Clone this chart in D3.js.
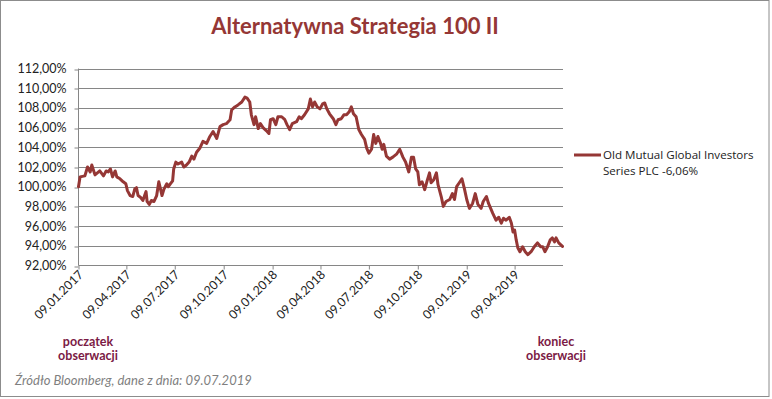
<!DOCTYPE html>
<html><head><meta charset="utf-8">
<script src="https://cdn.jsdelivr.net/npm/d3@7"></script>
<style>
html,body{margin:0;padding:0;background:#fff;}
svg{display:block;}
</style></head>
<body><svg id="c" width="772" height="399"></svg>
<script>
const title = "Alternatywna Strategia 100 II";
const seriesName = ["Old Mutual Global Investors", "Series PLC -6,06%"];
const sourceNote = "Źródło Bloomberg, dane z dnia: 09.07.2019";
const startNote = ["początek", "obserwacji"];
const endNote = ["koniec", "obserwacji"];
const yTicks = [92, 94, 96, 98, 100, 102, 104, 106, 108, 110, 112];
const xTickDates = ["2017-01-09","2017-04-09","2017-07-09","2017-10-09","2018-01-09","2018-04-09","2018-07-09","2018-10-09","2019-01-09","2019-04-09"];
const dates = [
"2017-01-09","2017-01-12","2017-01-21","2017-01-26","2017-01-31","2017-02-03","2017-02-09","2017-02-18","2017-02-25","2017-03-02",
"2017-03-06","2017-03-10","2017-03-14","2017-03-19","2017-03-22","2017-03-28","2017-04-03","2017-04-08","2017-04-11","2017-04-16",
"2017-04-21","2017-04-25","2017-04-28","2017-05-01","2017-05-06","2017-05-10","2017-05-16","2017-05-18","2017-05-22","2017-05-26",
"2017-05-31","2017-06-05","2017-06-09","2017-06-12","2017-06-15","2017-06-19","2017-06-24","2017-06-27","2017-07-01","2017-07-05",
"2017-07-07","2017-07-11","2017-07-15","2017-07-22","2017-07-26","2017-07-31","2017-08-05","2017-08-10","2017-08-14","2017-08-19",
"2017-08-25","2017-08-31","2017-09-07","2017-09-13","2017-09-19","2017-09-26","2017-10-02","2017-10-08","2017-10-14","2017-10-21",
"2017-10-24","2017-10-30","2017-11-05","2017-11-12","2017-11-18","2017-11-22","2017-11-27","2017-11-30","2017-12-05","2017-12-08",
"2017-12-13","2017-12-17","2017-12-22","2017-12-28","2018-01-02","2018-01-05","2018-01-10","2018-01-15","2018-01-19","2018-01-26",
"2018-02-01","2018-02-05","2018-02-10","2018-02-15","2018-02-23","2018-02-28","2018-03-04","2018-03-10","2018-03-17","2018-03-21",
"2018-03-25","2018-03-29","2018-04-03","2018-04-08","2018-04-13","2018-04-17","2018-04-21","2018-04-26","2018-05-03","2018-05-08",
"2018-05-12","2018-05-18","2018-05-23","2018-05-28","2018-06-02","2018-06-06","2018-06-10","2018-06-15","2018-06-20","2018-06-25",
"2018-07-01","2018-07-05","2018-07-09","2018-07-14","2018-07-18","2018-07-22","2018-07-26","2018-07-31","2018-08-03","2018-08-06",
"2018-08-11","2018-08-17","2018-08-23","2018-08-30","2018-09-05","2018-09-11","2018-09-16","2018-09-22","2018-09-27","2018-10-01",
"2018-10-05","2018-10-09","2018-10-12","2018-10-17","2018-10-22","2018-10-26","2018-10-31","2018-11-03","2018-11-08","2018-11-13",
"2018-11-16","2018-11-22","2018-11-26","2018-12-01","2018-12-08","2018-12-13","2018-12-17","2018-12-21","2018-12-26","2018-12-31",
"2019-01-05","2019-01-09","2019-01-14","2019-01-20","2019-01-25","2019-01-30","2019-02-05","2019-02-09","2019-02-15","2019-02-19",
"2019-02-27","2019-03-05","2019-03-10","2019-03-15","2019-03-19","2019-03-24","2019-03-30","2019-04-03","2019-04-06","2019-04-09",
"2019-04-12","2019-04-15","2019-04-19","2019-04-24","2019-04-29","2019-05-04","2019-05-10","2019-05-16","2019-05-22","2019-05-28",
"2019-06-01","2019-06-05","2019-06-10","2019-06-15","2019-06-19","2019-06-23","2019-06-26","2019-07-01","2019-07-08"
];
const values = [
100.0,101.0,101.1,102.0,101.5,102.2,101.2,101.6,101.1,101.6,
101.5,101.8,101.0,101.6,101.0,100.8,100.5,100.3,99.6,99.1,
99.0,99.8,99.9,99.1,98.9,98.6,99.5,98.5,98.2,98.6,
98.5,99.1,100.5,99.8,99.1,99.8,100.3,100.0,100.3,100.6,
101.8,102.5,102.3,102.5,102.0,102.2,102.5,103.1,102.8,103.5,
103.9,104.6,104.4,105.1,105.6,104.9,106.1,106.3,106.4,106.8,
107.8,108.1,108.3,108.6,109.1,109.0,108.6,107.3,106.3,107.1,
105.9,106.4,106.0,105.7,105.4,106.8,106.9,106.3,107.1,107.1,
106.8,106.3,105.8,106.4,106.6,107.1,106.9,107.3,107.9,108.9,
108.1,108.6,108.1,107.9,108.4,108.5,107.9,107.4,106.9,106.3,
106.8,106.9,107.3,107.3,107.6,108.1,107.4,107.1,105.8,105.3,
104.8,103.9,103.4,103.8,105.3,104.4,105.1,104.4,103.8,104.3,
103.1,102.8,103.0,103.3,103.8,103.0,102.5,101.5,103.0,103.0,
101.8,101.5,100.2,100.5,99.7,100.5,101.4,100.4,100.7,101.4,
100.2,99.0,98.0,98.5,98.7,99.3,98.7,100.0,100.4,100.8,
99.7,98.7,97.8,98.3,99.3,98.2,97.8,98.5,99.0,98.3,
97.3,96.6,96.9,96.3,96.8,96.6,96.9,96.3,95.4,95.6,
94.6,93.8,93.4,93.9,93.4,93.1,93.4,93.9,94.3,93.9,
93.9,93.4,93.9,94.6,94.8,94.4,94.8,94.3,93.94
];

const parse = d3.timeParse("%Y-%m-%d");
const data = dates.map((d, i) => ({ date: parse(d), value: values[i] }));

const svg = d3.select("#c");
const lineColor = "#953735";
const gridColor = "#868686";
const noteColor = "#7b1a45";
const font = "Lato, 'Open Sans', sans-serif";

// outer border
svg.append("rect").attr("x", 0.5).attr("y", 0.5).attr("width", 768.5).attr("height", 396)
  .attr("fill", "#fff").attr("stroke", "#8c8c8c").attr("stroke-width", 1);

const x = d3.scaleTime().domain([parse("2017-01-09"), parse("2019-07-09")]).range([78.5, 563]);
const y = d3.scaleLinear().domain([92, 112]).range([265.5, 68.5]);

// gridlines
svg.append("g").selectAll("line").data(yTicks.filter(t => t !== 92)).join("line")
  .attr("x1", 78.5).attr("x2", 563).attr("y1", d => Math.round(y(d)) + 0.5).attr("y2", d => Math.round(y(d)) + 0.5)
  .attr("stroke", gridColor).attr("stroke-width", 1);

// y axis
const yAxis = d3.axisLeft(y).tickValues(yTicks).tickSize(4).tickPadding(8)
  .tickFormat(d => d.toFixed(2).replace(".", ",") + "%");
const gy = svg.append("g").attr("transform", "translate(78.5,0)").call(yAxis);
gy.select(".domain").attr("stroke", gridColor).attr("d", "M0,68.5V265.5");
gy.selectAll(".tick line").attr("stroke", gridColor).attr("transform", d => `translate(0,${Math.round(y(d)) + 0.5 - y(d)})`);
gy.selectAll(".tick text").attr("font-family", font).attr("font-size", "12.5px").attr("fill", "#222");

// x axis
const xAxis = d3.axisBottom(x).tickValues(xTickDates.map(parse)).tickSize(4).tickPadding(3)
  .tickFormat(d3.timeFormat("%d.%m.%Y"));
const gx = svg.append("g").attr("transform", "translate(0,265.5)").call(xAxis);
gx.select(".domain").attr("stroke", gridColor).attr("d", "M78.5,0H563");
gx.selectAll(".tick line").attr("stroke", gridColor);
gx.selectAll(".tick text")
  .attr("font-family", font).attr("font-size", "12.3px").attr("fill", "#222")
  .attr("text-anchor", "end").attr("dy", "0").attr("y", 0)
  .attr("transform", "translate(5,10) rotate(-45)");

// series line
const line = d3.line().x(d => x(d.date)).y(d => y(d.value)).curve(d3.curveLinear);
svg.append("path").datum(data).attr("d", line)
  .attr("fill", "none").attr("stroke", lineColor).attr("stroke-width", 3)
  .attr("stroke-linejoin", "round").attr("stroke-linecap", "round");

// title
svg.append("text").attr("x", 355).attr("y", 34).attr("text-anchor", "middle")
  .attr("font-family", font).attr("font-weight", "bold").attr("font-size", "22px")
  .attr("fill", lineColor).text(title);

// legend
svg.append("line").attr("x1", 574).attr("x2", 601).attr("y1", 155).attr("y2", 155)
  .attr("stroke", lineColor).attr("stroke-width", 3);
const lg = svg.append("text").attr("font-family", "'Open Sans', 'Noto Sans', sans-serif").attr("font-size", "11.6px").attr("fill", "#222");
seriesName.forEach((s, i) => lg.append("tspan").attr("x", 603).attr("y", 159 + i * 16).text(s));

// notes
function note(lines, cx) {
  const t = svg.append("text").attr("text-anchor", "middle")
    .attr("font-family", font).attr("font-weight", "bold").attr("font-size", "12.5px")
    .attr("fill", noteColor);
  lines.forEach((s, i) => t.append("tspan").attr("x", cx).attr("y", 346 + i * 14).text(s));
}
note(startNote, 88);
note(endNote, 556);

svg.append("text").attr("x", 15).attr("y", 385)
  .attr("font-family", font).attr("font-style", "italic").attr("font-size", "13px")
  .attr("fill", "#7f7f7f").text(sourceNote);
</script>
</body></html>
